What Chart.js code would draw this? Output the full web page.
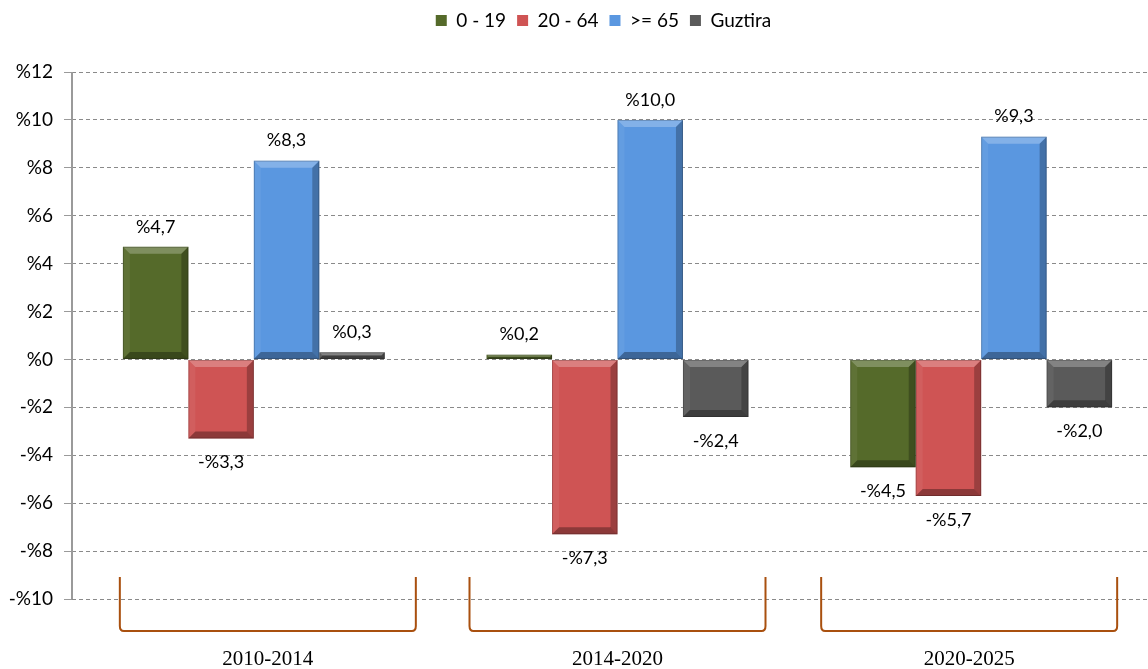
<!DOCTYPE html>
<html>
<head>
<meta charset="utf-8">
<script src="https://cdn.jsdelivr.net/npm/chart.js@4"></script>
<style>
	html, body { margin: 0; padding: 0; overflow: hidden; background: #fff; }
	#wrap { width: 1163px; height: 669px; position: relative; }
</style>
</head>
<body>
<div id="wrap"><canvas id="ageChart"></canvas></div>
<script>
// periods and population change (%) per age group
const periods = ["2010-2014", "2014-2020", "2020-2025"];
const young = [4.7, 0.2, -4.5];
const adults = [-3.3, -7.3, -5.7];
const elderly = [8.3, 10.0, 9.3];
const total = [0.3, -2.4, -2.0];
const seriesNames = ["0 - 19", "20 - 64", ">= 65", "Guztira"];
const yTicks = { min: -10, max: 12, step: 2 };

const colors = ["#556A2A", "#CF5454", "#5A97E0", "#5A5A5A"];
// small horizontal nudge of each bracket relative to its category centre
const bracketShift = [14, 0, -12];

const fmtPct = (v) => (v < 0 ? "-%" : "%") + Math.abs(v).toFixed(1).replace(".", ",");

const bevelPlugin = {
	id: "bevel",
	afterDatasetsDraw(chart) {
		const ctx = chart.ctx;
		chart.data.datasets.forEach((ds, i) => {
			const meta = chart.getDatasetMeta(i);
			meta.data.forEach((bar) => {
				const p = bar.getProps(["x", "y", "base", "width"], true);
				const l = p.x - p.width / 2, r = p.x + p.width / 2;
				const t = Math.min(p.y, p.base), b = Math.max(p.y, p.base);
				const d = Math.min(7, (b - t) / 2);
				ctx.save();
				const face = (pts, fill) => {
					ctx.beginPath();
					ctx.moveTo(pts[0][0], pts[0][1]);
					for (let k = 1; k < pts.length; k++) ctx.lineTo(pts[k][0], pts[k][1]);
					ctx.closePath();
					ctx.fillStyle = fill;
					ctx.fill();
				};
				face([[l, t], [r, t], [r - d, t + d], [l + d, t + d]], "rgba(255,255,255,0.25)");
				face([[l, t], [l + d, t + d], [l + d, b - d], [l, b]], "rgba(255,255,255,0.06)");
				face([[r, t], [r, b], [r - d, b - d], [r - d, t + d]], "rgba(0,0,0,0.25)");
				face([[l, b], [l + d, b - d], [r - d, b - d], [r, b]], "rgba(0,0,0,0.32)");
				ctx.strokeStyle = "rgba(0,0,0,0.2)";
				ctx.lineWidth = 1;
				ctx.strokeRect(l + 0.5, t + 0.5, r - l - 1, b - t - 1);
				ctx.restore();
			});
		});
	},
};

const valueLabels = {
	id: "valueLabels",
	afterDatasetsDraw(chart) {
		const ctx = chart.ctx;
		ctx.save();
		ctx.font = "18px Lato, 'Open Sans', sans-serif";
		ctx.fillStyle = "#000";
		ctx.textAlign = "center";
		ctx.textBaseline = "middle";
		chart.data.datasets.forEach((ds, i) => {
			chart.getDatasetMeta(i).data.forEach((bar, j) => {
				const v = ds.data[j];
				const p = bar.getProps(["x", "y", "base"], true);
				if (v >= 0) {
					ctx.fillText(fmtPct(v), p.x, Math.min(p.y, p.base) - 20);
				} else {
					ctx.fillText(fmtPct(v), p.x, Math.max(p.y, p.base) + 24);
				}
			});
		});
		ctx.restore();
	},
};

// solid y axis line (grid lines are dashed)
const axisLine = {
	id: "axisLine",
	afterDatasetsDraw(chart) {
		const { ctx, chartArea } = chart;
		ctx.save();
		ctx.strokeStyle = "#9a9a9a";
		ctx.lineWidth = 2;
		ctx.beginPath();
		ctx.moveTo(chartArea.left, chartArea.top);
		ctx.lineTo(chartArea.left, chartArea.bottom);
		ctx.stroke();
		ctx.restore();
	},
};

const brackets = {
	id: "brackets",
	afterDraw(chart) {
		const ctx = chart.ctx;
		const xs = chart.scales.x;
		const yBottom = chart.chartArea.bottom;
		const half = 148;
		ctx.save();
		periods.forEach((label, i) => {
			const cx = xs.getPixelForValue(i) + bracketShift[i];
			const l = cx - half, r = cx + half;
			const top = yBottom - 22, bot = yBottom + 32;
			ctx.strokeStyle = "#A9500F";
			ctx.lineWidth = 2;
			ctx.beginPath();
			ctx.moveTo(l, top);
			ctx.lineTo(l, bot - 5);
			ctx.quadraticCurveTo(l, bot, l + 4, bot);
			ctx.lineTo(r - 4, bot);
			ctx.quadraticCurveTo(r, bot, r, bot - 5);
			ctx.lineTo(r, top);
			ctx.stroke();
			ctx.fillStyle = "#000";
			ctx.font = "21px 'Liberation Serif', serif";
			ctx.textAlign = "center";
			ctx.textBaseline = "middle";
			ctx.fillText(label, cx, yBottom + 60);
		});
		ctx.restore();
	},
};

const legendSpace = {
	id: "legendSpace",
	beforeInit(chart) {
		const legend = chart.legend;
		const fit = legend.fit;
		legend.fit = function () {
			fit.bind(legend)();
			this.height = 72;
		};
		const draw = legend.draw;
		legend.draw = function () {
			chart.ctx.save();
			chart.ctx.translate(22, 0);
			draw.bind(legend)();
			chart.ctx.restore();
		};
	},
};

const ageChart = document.getElementById("ageChart");
if (ageChart) {
	new Chart(ageChart, {
		type: "bar",
		data: {
			labels: periods,
			datasets: [young, adults, elderly, total].map((d, i) => ({
				label: seriesNames[i],
				data: d,
				backgroundColor: colors[i],
				borderWidth: 0,
				categoryPercentage: 0.72,
				barPercentage: 1,
			})),
		},
		options: {
			responsive: true,
			maintainAspectRatio: false,
			animation: false,
			layout: { padding: { top: 0, bottom: 70, left: 0, right: 0 } },
			plugins: {
				tooltip: { enabled: false },
				legend: {
					position: "top",
					labels: {
						boxWidth: 11,
						boxHeight: 11,
						padding: 11,
						color: "#000",
						font: { size: 19, family: "Lato, 'Open Sans', sans-serif" },
					},
				},
			},
			scales: {
				x: { display: false },
				y: {
					min: yTicks.min,
					max: yTicks.max,
					afterFit(s) { s.width = 72; },
					ticks: {
						stepSize: yTicks.step,
						padding: 11,
						color: "#000",
						font: { size: 19, family: "Lato, 'Open Sans', sans-serif" },
						callback: (v) => (v < 0 ? "-%" + Math.abs(v) : "%" + v),
					},
					grid: {
						color: "#8a8a8a",
						tickLength: 8,
						tickColor: "#9a9a9a",
						drawTicks: true,
					},
					border: { display: false, dash: [4, 3] },
				},
			},
		},
		plugins: [legendSpace, axisLine, bevelPlugin, valueLabels, brackets],
	});
}
</script>
</body>
</html>
